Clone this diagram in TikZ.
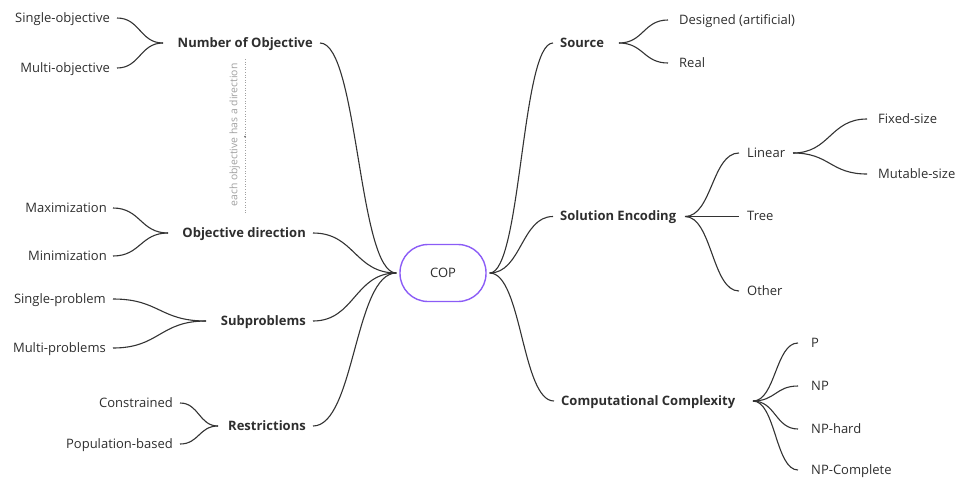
\documentclass[tikz,border=0pt]{standalone}
\usepackage{fontspec}
\setmainfont{Open Sans}
\usetikzlibrary{calc}
\definecolor{ink}{HTML}{333333}
\definecolor{txt}{HTML}{2E2E2E}
\definecolor{copline}{HTML}{8B5CF6}
\definecolor{note}{HTML}{A0A0A0}

% S-shaped branch with horizontal tangents at both ends
\newcommand\sbr[2]{\draw[link] let \p1=(#1), \p2=(#2) in
  (\p1) .. controls ({(\x1+\x2)/2},\y1) and ({(\x1+\x2)/2},\y2) .. (\p2);}

\begin{document}
\begin{tikzpicture}[x=1pt,y=-1pt,
  every node/.style={inner sep=0pt, text height=8.5pt, text depth=0pt,
    text=txt, font=\fontsize{13}{15}\selectfont},
  topic/.style={font=\fontsize{13}{15}\selectfont\bfseries},
  link/.style={draw=ink, line width=1.1pt},
  centre/.style={draw=copline, line width=1.4pt, rounded corners=28pt,
    minimum width=86pt, minimum height=57pt},
  notetxt/.style={text=note, font=\fontsize{10.4}{12}\selectfont, rotate=90},
  noteline/.style={draw=note, line width=0.8pt, dash pattern=on 1pt off 1.6pt},
]
\useasboundingbox (0,0) rectangle (960,477);

% central topic
\node[centre] (cop) at (443,273) {COP};

% left topics
\node[topic, anchor=east] (nobj)  at (313,43)  {Number of Objective};
\node[topic, anchor=east] (odir)  at (306,233) {Objective direction};
\node[topic, anchor=east] (subp)  at (306,321) {Subproblems};
\node[topic, anchor=east] (restr) at (306,426) {Restrictions};

% left leaves
\node[anchor=east] (single) at (110,18)  {Single-objective};
\node[anchor=east] (multi)  at (110,68)  {Multi-objective};
\node[anchor=east] (maxi)   at (107,208) {Maximization};
\node[anchor=east] (mini)   at (107,256) {Minimization};
\node[anchor=east] (sprob)  at (106,299) {Single-problem};
\node[anchor=east] (mprob)  at (106,348) {Multi-problems};
\node[anchor=east] (constr) at (173,403) {Constrained};
\node[anchor=east] (popb)   at (173,444) {Population-based};

% right topics
\node[topic, anchor=west] (src)  at (560,43)  {Source};
\node[topic, anchor=west] (senc) at (560,216.5) {Solution Encoding};
\node[topic, anchor=west] (ccx)  at (561,401) {Computational Complexity};

% right leaves
\node[anchor=west] (des)   at (679,20)  {Designed (artificial)};
\node[anchor=west] (real)  at (679,63)  {Real};
\node[anchor=west] (lin)   at (747,153) {Linear};
\node[anchor=west] (tree)  at (747,216.5) {Tree};
\node[anchor=west] (other) at (747,291) {Other};
\node[anchor=west] (fixed) at (878,119) {Fixed-size};
\node[anchor=west] (mut)   at (878,174) {Mutable-size};
\node[anchor=west] (p)     at (811,343) {P};
\node[anchor=west] (np)    at (811,386) {NP};
\node[anchor=west] (nph)   at (811,429) {NP-hard};
\node[anchor=west] (npc)   at (811,470) {NP-Complete};

% junction points where sub-branches split
\coordinate (nobj-j)  at (163,43);
\coordinate (odir-j)  at (168,233);
\coordinate (subp-j)  at (206,321);
\coordinate (restr-j) at (218,426);
\coordinate (src-j)   at (619,43);
\coordinate (senc-j)  at (685,216.5);
\coordinate (ccx-j)   at (753,401);
\coordinate (lin-j)   at (793,153);

% main branches
\foreach \t in {nobj,odir,subp,restr}
  \sbr{[xshift=-3pt]cop.west}{[xshift=7pt]\t.east};
\foreach \t in {src,senc,ccx}
  \sbr{[xshift=3pt]cop.east}{[xshift=-7pt]\t.west};

% sub-branches, left side
\sbr{nobj-j}{[xshift=7pt]single.east}
\sbr{nobj-j}{[xshift=7pt]multi.east}
\sbr{odir-j}{[xshift=6pt]maxi.east}
\sbr{odir-j}{[xshift=6pt]mini.east}
\sbr{subp-j}{[xshift=7pt]sprob.east}
\sbr{subp-j}{[xshift=7pt]mprob.east}
\sbr{restr-j}{[xshift=7pt]constr.east}
\sbr{restr-j}{[xshift=7pt]popb.east}

% sub-branches, right side
\sbr{src-j}{[xshift=-11pt]des.west}
\sbr{src-j}{[xshift=-11pt]real.west}
\sbr{senc-j}{[xshift=-8pt]lin.west}
\sbr{senc-j}{[xshift=-8pt]tree.west}
\sbr{senc-j}{[xshift=-8pt]other.west}
\sbr{lin-j}{[xshift=-11pt]fixed.west}
\sbr{lin-j}{[xshift=-11pt]mut.west}
\sbr{ccx-j}{[xshift=-13pt]p.west}
\sbr{ccx-j}{[xshift=-13pt]np.west}
\sbr{ccx-j}{[xshift=-13pt]nph.west}
\sbr{ccx-j}{[xshift=-13pt]npc.west}

% note beside the objective branches
\coordinate (note-top) at (245,59);
\coordinate (note-bot) at (245,214);
\draw[noteline] (note-top) -- (note-bot);
\fill[note!70!black] ($(note-top)!0.5!(note-bot)$) circle (1pt);
\node[notetxt] (notetext) at (233,135) {each objective has a direction};
\end{tikzpicture}
\end{document}
